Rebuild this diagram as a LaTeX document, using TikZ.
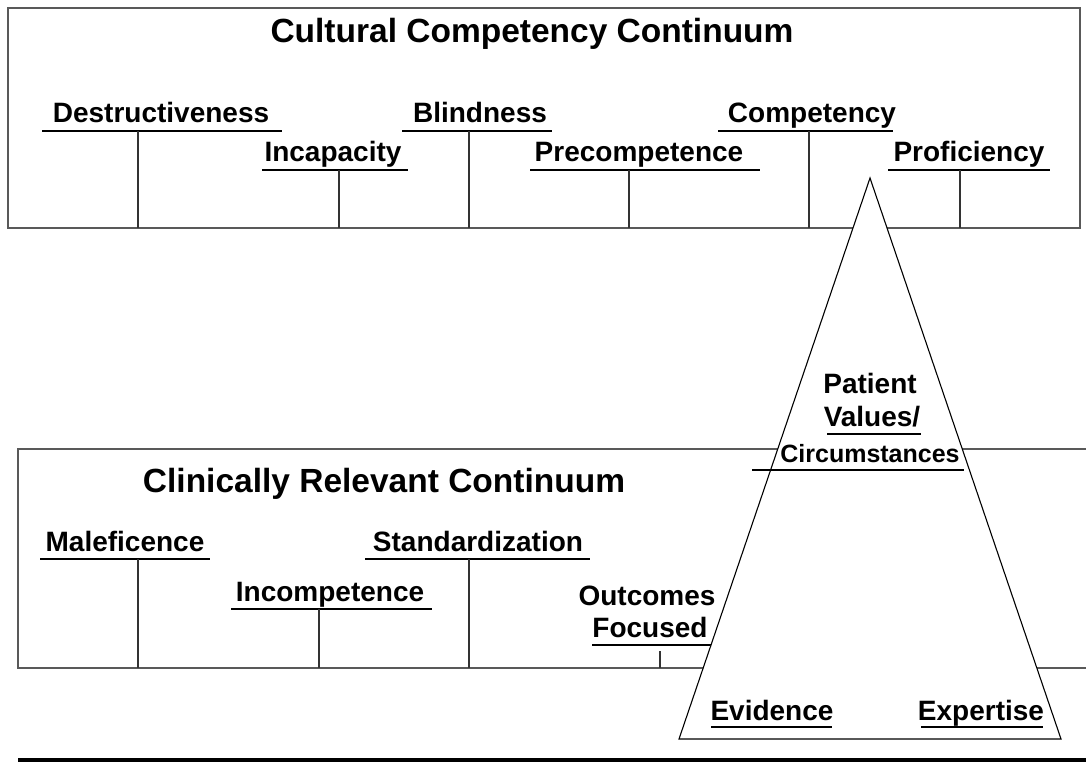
\documentclass[tikz,border=0pt]{standalone}
\usepackage{fontspec}
\setmainfont{Liberation Sans}
\usetikzlibrary{positioning}
\tikzset{
  lbl/.style={anchor=base, inner sep=0pt, font=\fontsize{28}{30}\selectfont\bfseries},
  smalllbl/.style={lbl, font=\fontsize{25}{27}\selectfont\bfseries},
  ttl/.style={anchor=base, inner sep=0pt, font=\fontsize{33.5}{36}\selectfont\bfseries},
  uline/.style={line width=2.8pt},
  tickline/.style={line width=1.3pt, black!80},
  frame/.style={line width=1.8pt, black!65},
}
\begin{document}
\begin{tikzpicture}[x=1pt, y=-1pt]
\useasboundingbox (0,0) rectangle (1086,764);

% Continuum boxes
\draw[frame] (8,8) rectangle (1080,228);
\draw[frame] (1086,449) -- (18,449) -- (18,668) -- (1086,668);

\node[ttl] (cultural) at (532,42) {Cultural Competency Continuum};
\node[ttl] (clinical) at (384,492) {Clinically Relevant Continuum};

% Cultural stages
\foreach \tx/\ty/\ua/\ub/\tk/\txt [count=\i] in {
    161/122/42/282/138/Destructiveness,
    333/161/262/408/339/Incapacity,
    480/122/402/552/469/Blindness,
    639/161/530/760/629/Precompetence,
    812/122/718/893/809/Competency,
    969/161/888/1050/960/Proficiency}
{
  \node[lbl] (cc\i) at (\tx,\ty) {\txt};
  \draw[uline] (\ua,\ty+9) -- (\ub,\ty+9);
  \path (\tk,\ty+9) coordinate (cct\i) (\tk,228) coordinate (ccb\i);
  \draw[tickline] (cct\i) -- (ccb\i);
}

% Clinical stages
\foreach \tx/\ty/\ua/\ub/\tk/\txt [count=\i] in {
    125/551/40/210/138/Maleficence,
    330/601/231/432/319/Incompetence,
    478/551/365/590/469/Standardization}
{
  \node[lbl] (cr\i) at (\tx,\ty) {\txt};
  \draw[uline] (\ua,\ty+8) -- (\ub,\ty+8);
  \path (\tk,\ty+8) coordinate (crt\i) (\tk,668) coordinate (crb\i);
  \draw[tickline] (crt\i) -- (crb\i);
}

\node[lbl] (outcomes) at (647,605) {Outcomes};
\node[lbl] (focused) at (650,637) {Focused};
\draw[uline] (592,645) -- (712,645);
\path (660,651) coordinate (oft) (660,668) coordinate (ofb);
\draw[tickline] (oft) -- (ofb);

% Triangle
\coordinate (apex) at (870,178);
\coordinate (baseL) at (679,739);
\coordinate (baseR) at (1061,739);
\draw[line width=1.1pt, fill=white] (apex) -- (baseR) -- (baseL) -- cycle;

\node[lbl] (patient) at (870,393) {Patient};
\node[lbl] (values) at (872,426) {Values/};
\draw[uline] (827,434) -- (921,434);
\node[smalllbl] (circ) at (870,462) {Circumstances};
\draw[uline] (752,470) -- (964,470);

\node[lbl] (evidence) at (772,720) {Evidence};
\draw[uline] (711,727) -- (832,727);
\node[lbl] (expertise) at (981,720) {Expertise};
\draw[uline] (921,727) -- (1043,727);

% Baseline
\draw[line width=4pt] (18,760) -- (1086,760);

\end{tikzpicture}
\end{document}
